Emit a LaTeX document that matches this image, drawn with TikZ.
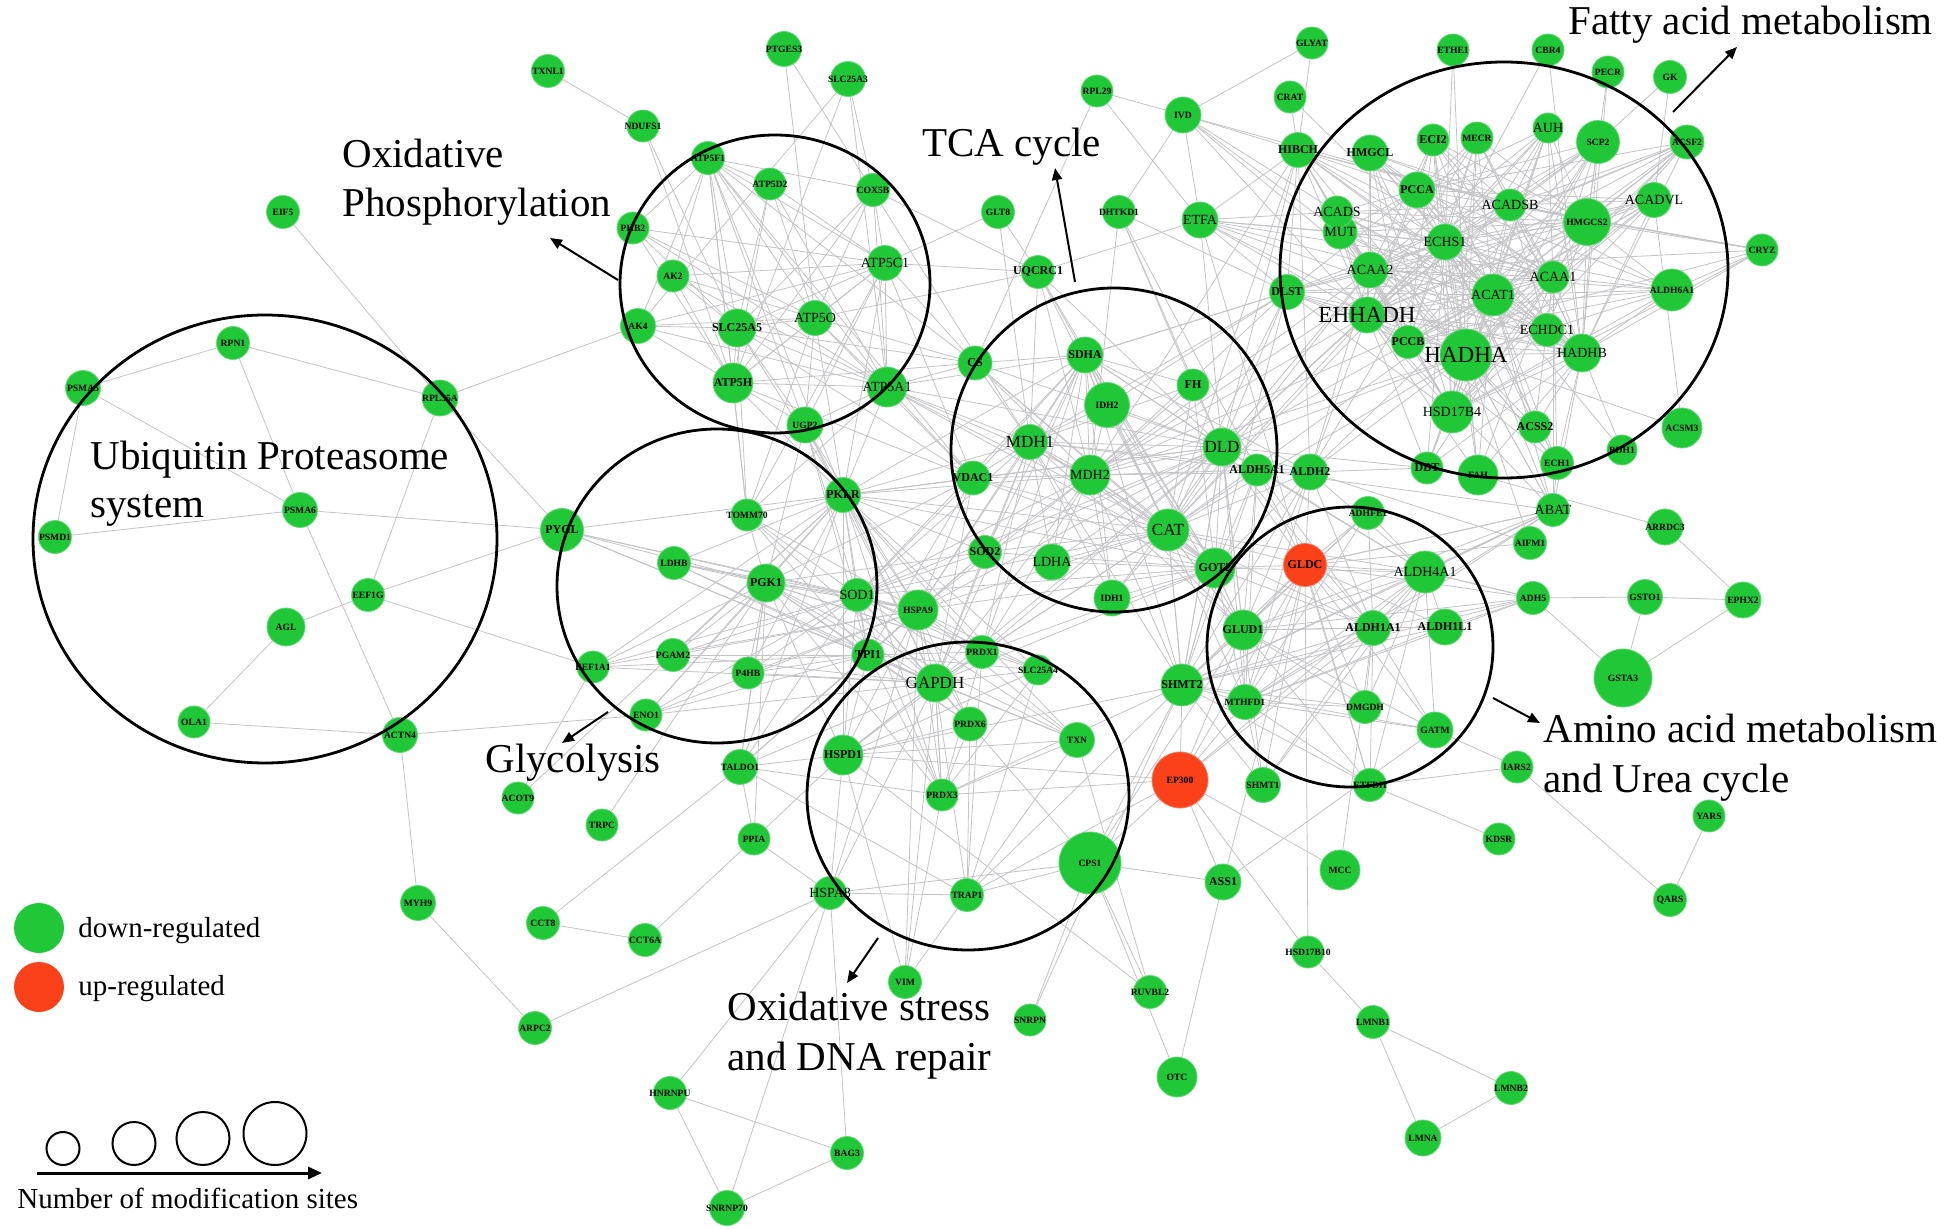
\documentclass[tikz,border=0pt]{standalone}
\usepackage{fontspec}
\setmainfont{Liberation Serif}
\usetikzlibrary{arrows.meta,shapes.geometric,backgrounds}
\pgfdeclarelayer{fg}
\pgfsetlayers{background,main,fg}
\definecolor{ngreen}{RGB}{32,200,56}
\definecolor{nred}{RGB}{250,65,25}
\definecolor{edgec}{RGB}{196,196,200}
\tikzset{
 gc/.style={circle,fill=ngreen,draw=ngreen!70!white,line width=0.4pt,inner sep=0pt,outer sep=0pt},
 rc/.style={circle,fill=nred,draw=nred!70!white,line width=0.4pt,inner sep=0pt,outer sep=0pt},
 ft/.style={inner sep=0pt,font=\fontsize{4.8}{5}\selectfont\bfseries},
 fs/.style={inner sep=0pt,font=\fontsize{6}{6}\selectfont\bfseries},
 fm/.style={inner sep=0pt,font=\fontsize{7}{7}\selectfont},
 fl/.style={inner sep=0pt,font=\fontsize{8.5}{8.5}\selectfont},
 fx/.style={inner sep=0pt,font=\fontsize{11.5}{11.5}\selectfont},
 lnk/.style={draw=edgec,line width=0.4pt},
 clus/.style={ellipse,draw=black,line width=1.4pt,inner sep=0pt,outer sep=0pt},
 arr/.style={draw=black,line width=1pt,-{Triangle[length=6pt,width=5pt]}},
 ttl/.style={anchor=base west,inner sep=0pt,font=\fontsize{20.5}{24}\selectfont},
 lgd/.style={anchor=base west,inner sep=0pt,font=\fontsize{14.5}{17}\selectfont},
 szc/.style={circle,draw=black,line width=1pt,inner sep=0pt},
}
\newcommand\GN[5]{\node[gc,minimum size=#4pt] (#1) at (#2,#3) {};
  \begin{pgfonlayer}{fg}\node[#5] (#1-l) at (#1.center) {#1};\end{pgfonlayer}}
\newcommand\RN[5]{\node[rc,minimum size=#4pt] (#1) at (#2,#3) {};
  \begin{pgfonlayer}{fg}\node[#5] (#1-l) at (#1.center) {#1};\end{pgfonlayer}}
\begin{document}
\begin{tikzpicture}[x=0.5pt,y=-0.5pt]
\useasboundingbox (0,0) rectangle (1950,1229);
% ---------- nodes ----------
\GN{EIF5}{283}{212}{16.5}{ft}
\GN{RPN1}{233}{343}{16.5}{ft}
\GN{PSMA5}{83}{388}{17.5}{ft}
\GN{RPL35A}{440}{398}{18}{ft}
\GN{PSMD1}{55}{537}{16.5}{ft}
\GN{PSMA6}{300}{510}{17.5}{ft}
\GN{EEF1G}{368}{595}{16.5}{ft}
\GN{AGL}{286}{627}{19}{ft}
\GN{OLA1}{194}{722}{16}{ft}
\GN{ACTN4}{400}{735}{17.5}{ft}
\GN{MYH9}{418}{903}{17.5}{ft}
\GN{TXNL1}{548}{71}{16.5}{ft}
\GN{PTGES3}{784}{49}{17.5}{ft}
\GN{SLC25A3}{848}{79}{17.5}{ft}
\GN{NDUFS1}{643}{126}{16}{ft}
\GN{ATP5F1}{708}{158}{16.5}{ft}
\GN{ATP5D2}{770}{184}{16}{ft}
\GN{COX5B}{873}{190}{16.5}{ft}
\GN{PHB2}{633}{228}{16}{ft}
\GN{AK2}{673}{276}{16}{ft}
\GN{ATP5C1}{885}{263}{17.5}{fm}
\GN{AK4}{638}{326}{17.5}{ft}
\GN{SLC25A5}{737}{328}{19}{fs}
\GN{ATP5O}{815}{318}{17.5}{fm}
\GN{ATP5H}{733}{383}{20}{fs}
\GN{ATP5A1}{887}{387}{20}{fm}
\GN{UGP2}{805}{425}{18}{ft}
\GN{CS}{975}{363}{17}{fs}
\GN{RPL29}{1097}{91}{16}{ft}
\GN{GLT8}{998}{212}{16.5}{ft}
\GN{DHTKD1}{1119}{212}{16.5}{ft}
\GN{UQCRC1}{1038}{272}{16.5}{fs}
\GN{IVD}{1183}{115}{18}{ft}
\GN{ETFA}{1200}{220}{18}{fm}
\GN{SDHA}{1085}{355}{18}{fs}
\GN{FH}{1193}{385}{16}{fs}
\GN{IDH2}{1107}{405}{22.5}{ft}
\GN{MDH1}{1030}{442}{17.5}{fl}
\GN{DLD}{1222}{447}{19}{fl}
\GN{VDAC1}{973}{478}{17}{fs}
\GN{MDH2}{1090}{475}{20}{fm}
\GN{CAT}{1168}{530}{21}{fl}
\GN{SOD2}{985}{552}{16.5}{fs}
\GN{LDHA}{1052}{562}{18}{fm}
\GN{GOT2}{1215}{568}{20}{fs}
\GN{IDH1}{1112}{598}{18}{ft}
\GN{ALDH5A1}{1257}{470}{16}{fs}
\GN{ALDH2}{1310}{472}{18}{fs}
\GN{GLYAT}{1312}{43}{16}{ft}
\GN{CRAT}{1290}{97}{16}{ft}
\GN{HIBCH}{1298}{150}{17.5}{fs}
\GN{HMGCL}{1370}{153}{18}{fs}
\GN{ECI2}{1433}{140}{16}{fs}
\GN{ETHE1}{1453}{50}{16}{ft}
\GN{CBR4}{1548}{50}{16}{ft}
\GN{PECR}{1608}{72}{16}{ft}
\GN{GK}{1670}{77}{16.5}{ft}
\GN{MECR}{1477}{138}{16}{ft}
\GN{AUH}{1548}{128}{15}{fm}
\GN{SCP2}{1598}{142}{21.5}{ft}
\GN{ACSF2}{1687}{142}{17}{ft}
\GN{PCCA}{1417}{190}{18}{fs}
\GN{MUT}{1340}{232}{17}{fm}
\GN{ACADS}{1337}{212}{16}{fm}
\GN{ACADSB}{1510}{205}{16}{fm}
\GN{HMGCS2}{1587}{222}{23.5}{ft}
\GN{ACADVL}{1654}{200}{17.5}{fm}
\GN{CRYZ}{1762}{250}{16}{ft}
\GN{ECHS1}{1445}{242}{18}{fm}
\GN{ACAA2}{1370}{270}{18}{fm}
\GN{DLST}{1287}{292}{17.5}{fs}
\GN{ACAA1}{1553}{277}{16}{fm}
\GN{ACAT1}{1493}{295}{21}{fm}
\GN{ALDH6A1}{1672}{290}{21}{ft}
\GN{EHHADH}{1367}{315}{18}{fx}
\GN{ECHDC1}{1547}{330}{16.5}{fm}
\GN{PCCB}{1408}{342}{16.5}{fs}
\GN{HADHA}{1466}{355}{26}{fx}
\GN{HADHB}{1582}{353}{19}{fm}
\GN{HSD17B4}{1452}{412}{21}{fm}
\GN{ACSS2}{1535}{427}{16}{fs}
\GN{ACSM3}{1682}{428}{20}{ft}
\GN{BDH1}{1622}{450}{15}{ft}
\GN{ECH1}{1557}{463}{16.5}{ft}
\GN{FAH}{1478}{475}{20}{ft}
\GN{DBT}{1427}{468}{16}{fs}
\GN{ABAT}{1553}{510}{16.5}{fm}
\GN{AIFM1}{1530}{543}{16.5}{ft}
\GN{ARRDC3}{1665}{527}{18}{ft}
\GN{ADH5}{1533}{598}{16.5}{ft}
\GN{GSTO1}{1645}{597}{17.5}{ft}
\GN{EPHX2}{1743}{600}{18}{ft}
\GN{GSTA3}{1623}{678}{29}{ft}
\GN{ADHFE1}{1368}{513}{16.5}{ft}
\RN{GLDC}{1305}{565}{21.5}{fs}
\GN{ALDH4A1}{1425}{572}{21}{fm}
\GN{GLUD1}{1243}{630}{20}{fs}
\GN{ALDH1A1}{1373}{628}{17.5}{fs}
\GN{ALDH1L1}{1445}{627}{18}{fs}
\GN{MTHFD1}{1245}{702}{17.5}{ft}
\GN{DMGDH}{1365}{707}{16.5}{ft}
\GN{GATM}{1435}{730}{18}{ft}
\GN{ETFDH}{1370}{785}{16.5}{ft}
\GN{SHMT1}{1263}{785}{17.5}{ft}
\GN{SHMT2}{1182}{685}{21}{fs}
\RN{EP300}{1180}{780}{28}{ft}
\GN{IARS2}{1517}{767}{16}{ft}
\GN{YARS}{1709}{816}{16}{ft}
\GN{QARS}{1670}{900}{16.5}{ft}
\GN{KDSR}{1499}{839}{16}{ft}
\GN{PYGL}{562}{530}{21.5}{fs}
\GN{TOMM70}{747}{515}{16}{ft}
\GN{PKLR}{843}{495}{17.5}{fs}
\GN{LDHB}{674}{563}{16.5}{ft}
\GN{PGK1}{766}{583}{19}{fs}
\GN{SOD1}{857}{595}{16.5}{fm}
\GN{HSPA9}{918}{610}{20}{ft}
\GN{EEF1A1}{593}{667}{16}{ft}
\GN{PGAM2}{673}{655}{16.5}{ft}
\GN{P4HB}{748}{673}{16}{ft}
\GN{TPI1}{868}{655}{16}{fs}
\GN{ENO1}{646}{715}{16}{ft}
\GN{ACOT9}{518}{798}{16}{ft}
\GN{TRPC}{602}{825}{16}{ft}
\GN{TALDO1}{740}{767}{17.5}{ft}
\GN{GAPDH}{935}{683}{19}{fl}
\GN{PRDX6}{970}{724}{17}{ft}
\GN{PRDX1}{982}{652}{16.5}{ft}
\GN{SLC25A4}{1038}{670}{15}{ft}
\GN{HSPD1}{843}{755}{20}{fs}
\GN{PRDX3}{942}{795}{16}{ft}
\GN{TXN}{1077}{740}{17.5}{ft}
\GN{CPS1}{1090}{863}{31}{ft}
\GN{TRAP1}{967}{895}{16.5}{ft}
\GN{HSPA8}{830}{893}{16.5}{fm}
\GN{PPIA}{754}{839}{16}{ft}
\GN{CCT8}{543}{923}{16.5}{ft}
\GN{CCT6A}{645}{940}{16.5}{ft}
\GN{VIM}{905}{982}{16.5}{ft}
\GN{ARPC2}{535}{1028}{16.5}{ft}
\GN{HNRNPU}{670}{1093}{16.5}{ft}
\GN{BAG3}{847}{1153}{16.5}{ft}
\GN{SNRNP70}{727}{1208}{17.5}{ft}
\GN{ASS1}{1223}{882}{18}{fs}
\GN{MCC}{1340}{870}{20}{ft}
\GN{HSD17B10}{1308}{952}{16}{ft}
\GN{RUVBL2}{1150}{992}{16.5}{ft}
\GN{SNRPN}{1030}{1020}{16}{ft}
\GN{OTC}{1177}{1077}{20}{ft}
\GN{LMNB1}{1373}{1022}{16.5}{ft}
\GN{LMNA}{1423}{1138}{18}{ft}
\GN{LMNB2}{1511}{1088}{16.5}{ft}
% ---------- edges ----------
\begin{pgfonlayer}{background}
\fill[white] (0,0) rectangle (1950,1229);
\foreach \a/\b in {EIF5/RPL35A,RPN1/PSMA5,RPN1/RPL35A,RPN1/PSMA6,PSMA5/PSMA6,PSMA5/PSMD1,PSMD1/PSMA6,PSMA6/PYGL,PSMA6/ACTN4,RPL35A/EEF1G,EEF1G/AGL,EEF1G/PYGL,EEF1G/EEF1A1,AGL/OLA1,OLA1/ACTN4,ACTN4/ENO1,ACTN4/MYH9,MYH9/ARPC2,RPL35A/AK4,RPL35A/PYGL,
HSPA8/PPIA,HSPA8/ARPC2,HSPA8/HNRNPU,HSPA8/SNRNP70,HSPA8/BAG3,HSPA8/TRAP1,HSPA8/HSPD1,HSPA8/GAPDH,HSPA8/HSPA9,HSPA8/CPS1,CCT8/CCT6A,CCT8/TALDO1,CCT6A/PPIA,PPIA/TALDO1,PPIA/HSPD1,PPIA/PGK1,HNRNPU/BAG3,HNRNPU/SNRNP70,SNRNP70/BAG3,TRPC/PGK1,ACOT9/PKLR,ACOT9/EEF1A1,TALDO1/TPI1,TALDO1/PGK1,VIM/GAPDH,VIM/HSPA9,
CPS1/ASS1,CPS1/TRAP1,CPS1/OTC,CPS1/RUVBL2,CPS1/SNRPN,CPS1/GAPDH,CPS1/EP300,CPS1/GLUD1,CPS1/SHMT2,ASS1/OTC,ASS1/EP300,ASS1/GATM,ASS1/GLDC,RUVBL2/HSPD1,RUVBL2/TXN,SNRPN/SHMT2,MCC/EP300,MCC/ALDH1A1,HSD17B10/EP300,HSD17B10/LMNB1,HSD17B10/GLDC,LMNB1/LMNA,LMNB1/LMNB2,LMNA/LMNB2,KDSR/ETFDH,YARS/QARS,QARS/IARS2,IARS2/GATM,IARS2/ETFDH,
GSTO1/ADH5,GSTO1/EPHX2,GSTO1/GSTA3,ADH5/GSTA3,EPHX2/GSTA3,ARRDC3/EPHX2,ARRDC3/FAH,ADH5/ALDH4A1,ADH5/ALDH1L1,AIFM1/ALDH2,AIFM1/HADHA,AIFM1/GLDC,ABAT/ALDH4A1,ABAT/HADHA,ABAT/ECH1,ABAT/ALDH5A1,ABAT/GLDC,
GLYAT/HIBCH,GLYAT/IVD,CRAT/HIBCH,CRAT/ACAT1,ETHE1/HADHA,ETHE1/ECHS1,CBR4/ECHS1,CBR4/HADHB,PECR/HADHB,PECR/HMGCS2,GK/ACADVL,GK/SCP2,CRYZ/ALDH6A1,CRYZ/HADHB,CRYZ/ACADSB,ACSM3/ACADVL,ACSM3/HADHA,BDH1/ACAT1,BDH1/HADHB,ECH1/ECHS1,ECH1/HADHA,FAH/HADHA,DBT/HADHA,DBT/ALDH2,DBT/DLD,
IVD/ETFA,IVD/HIBCH,IVD/ACADS,IVD/MUT,IVD/ACAA2,IVD/EHHADH,IVD/ACADSB,IVD/RPL29,RPL29/CS,RPL29/ETFA,ETFA/DLD,ETFA/ACADS,ETFA/MUT,ETFA/ETFDH,ETFA/UQCRC1,ETFA/HIBCH,DHTKD1/FH,DHTKD1/DLD,DHTKD1/MDH2,DHTKD1/DLST,DHTKD1/ALDH5A1,DHTKD1/IVD,GLT8/UQCRC1,GLT8/ATP5C1,GLT8/MDH1,UQCRC1/ATP5C1,UQCRC1/ATP5O,UQCRC1/COX5B,DLST/SDHA,DLST/IDH2,DLST/HIBCH,DLST/ETFA,
TXNL1/NDUFS1,NDUFS1/SLC25A5,NDUFS1/ATP5H,PTGES3/ATP5O,PTGES3/MDH1,SLC25A3/AK4,SLC25A3/COX5B,SLC25A3/ATP5A1,SLC25A3/ATP5H,
HADHA/ACAT1,HADHA/EHHADH,HADHA/ECHS1,HADHA/HADHB,HADHA/ACAA1,ACAT1/EHHADH,ACAT1/ECHS1,ACAT1/HADHB,ACAT1/ACAA1,EHHADH/ECHS1,EHHADH/HADHB,EHHADH/ACAA1,ECHS1/HADHB,ECHS1/ACAA1,HADHB/ACAA1,
MDH1/MDH2,MDH1/DLD,MDH1/CAT,MDH1/GOT2,MDH1/SDHA,MDH2/DLD,MDH2/CAT,MDH2/GOT2,MDH2/SDHA,DLD/CAT,DLD/GOT2,DLD/SDHA,CAT/GOT2,CAT/SDHA,GOT2/SDHA,
ATP5A1/ATP5O,ATP5A1/ATP5H,ATP5A1/ATP5C1,ATP5A1/SLC25A5,ATP5A1/ATP5F1,ATP5O/ATP5H,ATP5O/ATP5C1,ATP5O/SLC25A5,ATP5O/ATP5F1,ATP5H/ATP5C1,ATP5H/SLC25A5,ATP5H/ATP5F1,ATP5C1/SLC25A5,ATP5C1/ATP5F1,SLC25A5/ATP5F1,
PGK1/PKLR,PGK1/SOD1,PGK1/TPI1,PGK1/GAPDH,PGK1/HSPA9,PKLR/SOD1,PKLR/TPI1,PKLR/GAPDH,PKLR/HSPA9,SOD1/TPI1,SOD1/GAPDH,SOD1/HSPA9,TPI1/GAPDH,TPI1/HSPA9,GAPDH/HSPA9,
GLDC/GLUD1,GLDC/ALDH4A1,GLDC/ALDH1A1,GLDC/MTHFD1,GLDC/SHMT2,GLUD1/ALDH4A1,GLUD1/ALDH1A1,GLUD1/MTHFD1,GLUD1/SHMT2,ALDH4A1/ALDH1A1,ALDH4A1/MTHFD1,ALDH4A1/SHMT2,ALDH1A1/MTHFD1,ALDH1A1/SHMT2,MTHFD1/SHMT2}
  {\draw[lnk] (\a) -- (\b);}
\foreach \h in {HADHA,ACAT1,EHHADH,ECHS1,HADHB,ACAA1}{
  \foreach \m in {HIBCH,HMGCL,ECI2,MECR,AUH,SCP2,ACSF2,PCCA,ACADS,MUT,ACADSB,HMGCS2,ACADVL,ACAA2,ALDH6A1,ECHDC1,PCCB,HSD17B4,ACSS2,DLST,ETFA,DBT,FAH,ECH1,ABAT}
  {\draw[lnk] (\h) -- (\m);}}
\foreach \h in {ACADSB,HSD17B4,ACAA2,PCCB,PCCA,HMGCS2}{
  \foreach \m in {HIBCH,HMGCL,ECI2,MECR,AUH,SCP2,ACSF2,MUT,ACADS,ACADVL,ALDH6A1,ECHDC1,CRYZ,DLST}
  {\draw[lnk] (\h) -- (\m);}}
\foreach \h in {MDH1,MDH2,DLD,CAT,GOT2,SDHA}{
  \foreach \m in {FH,IDH2,VDAC1,SOD2,LDHA,IDH1,CS,ALDH2,ALDH5A1,UQCRC1,ATP5A1,SOD1,HSPA9,PKLR,GAPDH,GLUD1,SHMT2,PRDX1,DLST}
  {\draw[lnk] (\h) -- (\m);}}
\foreach \h in {ATP5A1,ATP5O,ATP5H,ATP5C1,SLC25A5,ATP5F1}{
  \foreach \m in {ATP5D2,COX5B,PHB2,AK2,AK4,UGP2,CS,VDAC1,PKLR,TOMM70}
  {\draw[lnk] (\h) -- (\m);}}
\foreach \h in {PGK1,PKLR,SOD1,TPI1,GAPDH,HSPA9}{
  \foreach \m in {PYGL,TOMM70,LDHB,EEF1A1,PGAM2,P4HB,ENO1,TALDO1,HSPD1,PRDX6,PRDX1,SLC25A4,PRDX3,TXN,UGP2,SOD2,VDAC1}
  {\draw[lnk] (\h) -- (\m);}}
\foreach \h in {HSPD1,TRAP1,PRDX3}{
  \foreach \m in {TXN,PRDX6,PRDX1,SLC25A4,VIM,TALDO1,SHMT2,EP300,GAPDH}
  {\draw[lnk] (\h) -- (\m);}}
\foreach \h in {GLDC,GLUD1,ALDH4A1,ALDH1A1,MTHFD1,SHMT2}{
  \foreach \m in {ADHFE1,DMGDH,GATM,ETFDH,SHMT1,EP300,ALDH1L1,ALDH2,ALDH5A1,CAT,DLD,GOT2,ABAT,ADH5}
  {\draw[lnk] (\h) -- (\m);}}
\foreach \h in {DLD,MDH2,CAT,ALDH2}{
  \foreach \m in {HADHA,ACAT1,EHHADH,ECHS1,HIBCH,ACAA2}
  {\draw[lnk] (\h) -- (\m);}}
\end{pgfonlayer}
% ---------- cluster outlines ----------
\node[clus,minimum width=232pt,minimum height=224pt] (cUPS) at (265,539) {};
\node[clus,minimum width=155pt,minimum height=149pt] (cOXP) at (775,284) {};
\node[clus,minimum width=163pt,minimum height=162pt] (cTCA) at (1114,450) {};
\node[clus,minimum width=224pt,minimum height=208pt] (cFAT) at (1504,270) {};
\node[clus,minimum width=160pt,minimum height=157pt] (cGLY) at (717,586) {};
\node[clus,minimum width=143pt,minimum height=140pt] (cAMI) at (1350,647) {};
\node[clus,minimum width=161pt,minimum height=154pt] (cOXS) at (968,796) {};
% ---------- titles and arrows ----------
\node[ttl] (tOx1) at (342,168) {Oxidative};
\node[ttl] (tOx2) at (342,217) {Phosphorylation};
\node[ttl] (tTCA) at (922,157) {TCA cycle};
\node[ttl] (tFat) at (1568,35) {Fatty acid metabolism};
\node[ttl] (tUb1) at (90,470) {Ubiquitin Proteasome};
\node[ttl] (tUb2) at (90,518) {system};
\node[ttl] (tGly) at (485,772) {Glycolysis};
\node[ttl] (tAm1) at (1543,743) {Amino acid metabolism};
\node[ttl] (tAm2) at (1543,792) {and Urea cycle};
\node[ttl] (tOs1) at (727,1020) {Oxidative stress};
\node[ttl] (tOs2) at (727,1070) {and DNA repair};
\coordinate (a1s) at (618,280); \coordinate (a1e) at (550,238);
\coordinate (a2s) at (1075,282); \coordinate (a2e) at (1055,168);
\coordinate (a3s) at (1673,112); \coordinate (a3e) at (1737,47);
\coordinate (a4s) at (608,712); \coordinate (a4e) at (562,743);
\coordinate (a5s) at (1493,698); \coordinate (a5e) at (1540,723);
\coordinate (a6s) at (878,938); \coordinate (a6e) at (847,983);
\draw[arr] (a1s) -- (a1e);
\draw[arr] (a2s) -- (a2e);
\draw[arr] (a3s) -- (a3e);
\draw[arr] (a4s) -- (a4e);
\draw[arr] (a5s) -- (a5e);
\draw[arr] (a6s) -- (a6e);
% ---------- legend ----------
\node[circle,fill=ngreen,inner sep=0pt,minimum size=25pt] (lgG) at (39,928) {};
\node[circle,fill=nred,inner sep=0pt,minimum size=25pt] (lgR) at (39,987) {};
\node[lgd] (lgGt) at (78,937) {down-regulated};
\node[lgd] (lgRt) at (78,995) {up-regulated};
\node[szc,minimum size=16.5pt] (sz1) at (63,1148.5) {};
\node[szc,minimum size=21.5pt] (sz2) at (134,1143.5) {};
\node[szc,minimum size=26.5pt] (sz3) at (203,1138.5) {};
\node[szc,minimum size=31.5pt] (sz4) at (275,1133.5) {};
\coordinate (lgA) at (37,1173); \coordinate (lgB) at (322,1173);
\draw[line width=1.5pt,-{Triangle[length=7pt,width=6pt]}] (lgA) -- (lgB);
\node[lgd] (lgN) at (17,1208) {Number of modification sites};
\end{tikzpicture}
\end{document}
